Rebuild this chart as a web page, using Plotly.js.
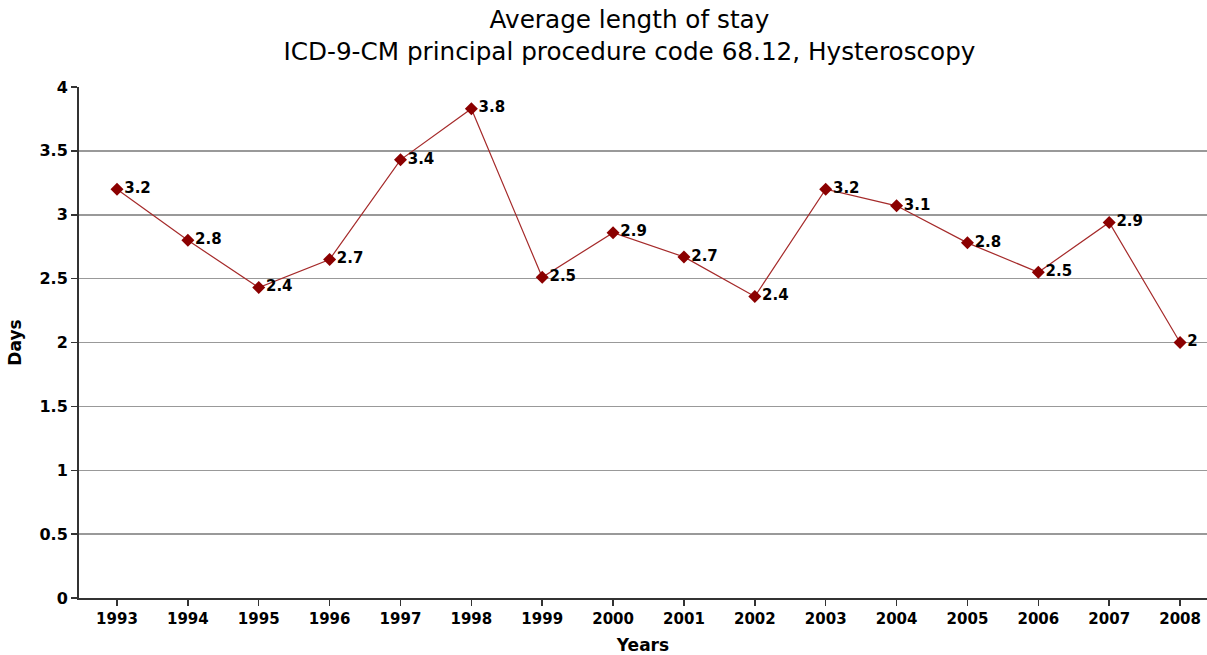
<!DOCTYPE html>
<html>
<head>
<meta charset="utf-8">
<script src="https://cdn.plot.ly/plotly-3.0.1.min.js"></script>
<style>html,body{margin:0;padding:0;background:#fff;}#chart{width:1207px;height:655px;}</style>
</head>
<body>
<div id="chart"></div>
<script>
var years = ["1993","1994","1995","1996","1997","1998","1999","2000","2001","2002","2003","2004","2005","2006","2007","2008"];
var days = [3.20, 2.80, 2.43, 2.65, 3.43, 3.83, 2.51, 2.86, 2.67, 2.36, 3.20, 3.07, 2.78, 2.55, 2.94, 2.00];
var labels = ["3.2","2.8","2.4","2.7","3.4","3.8","2.5","2.9","2.7","2.4","3.2","3.1","2.8","2.5","2.9","2"];
var yTicks = [0, 0.5, 1, 1.5, 2, 2.5, 3, 3.5, 4];

var FONT = 'DejaVu Sans, Verdana, sans-serif';

var trace = {
  x: years, y: days, text: labels,
  type: 'scatter', mode: 'lines+markers+text',
  textposition: 'middle right',
  textfont: {family: FONT, size: 15, color: '#000', weight: 'bold'},
  line: {color: '#A52A2A', width: 1.2},
  marker: {symbol: 'diamond', size: 10, color: '#8B0000'},
  cliponaxis: false,
  hoverinfo: 'x+y'
};

var layout = {
  width: 1207, height: 655,
  margin: {l: 79, r: 0, t: 87, b: 57},
  paper_bgcolor: '#fff', plot_bgcolor: '#fff',
  showlegend: false,
  title: {
    text: 'Average length of stay<br>ICD-9-CM principal procedure code 68.12, Hysteroscopy',
    font: {family: FONT, size: 24.7, color: '#000'},
    x: 0.488, xref: 'paper', xanchor: 'center',
    yref: 'container', y: 0.957, yanchor: 'top'
  },
  xaxis: {
    type: 'category', range: [-0.536, 15.38],
    showgrid: false, zeroline: false,
    showline: true, linecolor: '#333', linewidth: 2,
    ticks: 'outside', ticklen: 6, tickcolor: '#333', tickwidth: 1.5,
    tickfont: {family: FONT, size: 15, color: '#000', weight: 'bold'},
    title: {text: 'Years', font: {family: FONT, size: 17, color: '#000', weight: 'bold'}, standoff: 12}
  },
  yaxis: {
    range: [0, 4], tickvals: yTicks, ticktext: yTicks.map(String),
    showgrid: true, gridcolor: '#999', gridwidth: 1.5,
    zeroline: false,
    showline: true, linecolor: '#333', linewidth: 2,
    ticks: 'outside', ticklen: 6, tickcolor: '#333', tickwidth: 1.5,
    tickfont: {family: FONT, size: 16, color: '#000', weight: 'bold'},
    title: {text: 'Days', font: {family: FONT, size: 17, color: '#000', weight: 'bold'}, standoff: 14}
  }
};

Plotly.newPlot('chart', [trace], layout, {displayModeBar: false, staticPlot: true});
</script>
</body>
</html>
